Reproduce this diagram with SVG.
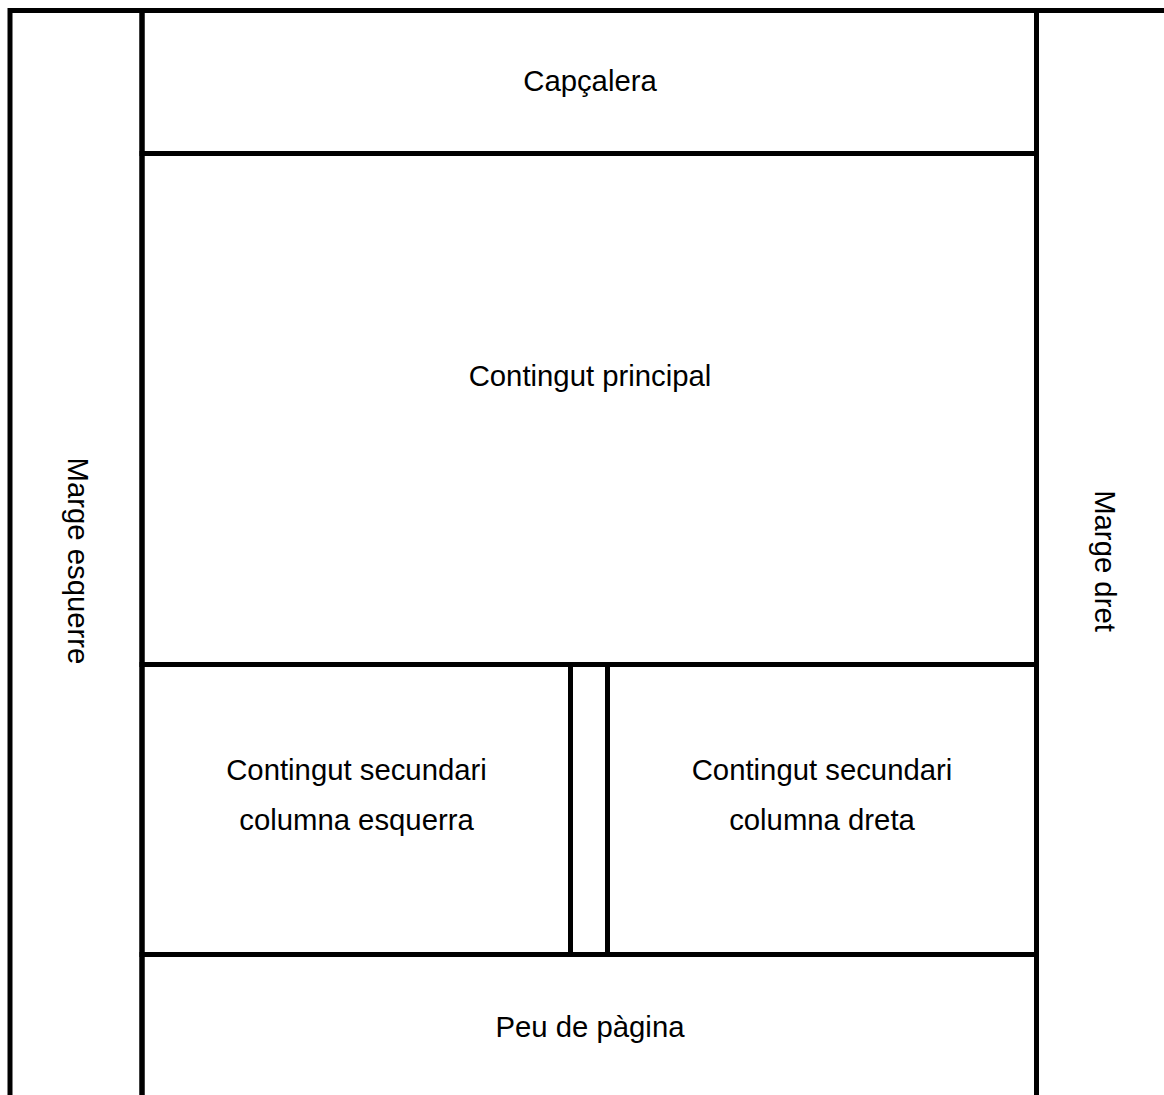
<svg xmlns="http://www.w3.org/2000/svg" width="1164" height="1095" viewBox="0 0 1164 1095">
<style>
.box{fill:none;stroke:#000;stroke-width:5;stroke-linejoin:miter}
.lbl{font-family:"Liberation Sans",Arial,Helvetica,sans-serif;font-size:29.3px;fill:#000;text-anchor:middle}
</style>
<rect width="1164" height="1095" fill="#fff"/>
<g id="margin-left"><rect class="box" x="10" y="10.5" width="132" height="1200"/><text class="lbl" transform="translate(68,561) rotate(90)">Marge esquerre</text></g>
<g id="margin-right"><rect class="box" x="1036.5" y="10.5" width="200" height="1200"/><text class="lbl" transform="translate(1095,561) rotate(90)">Marge dret</text></g>
<g id="header"><rect class="box" x="142" y="10.5" width="894.5" height="143"/><text class="lbl" x="590" y="91">Capçalera</text></g>
<g id="main"><rect class="box" x="142" y="153.5" width="894.5" height="511"/><text class="lbl" x="590" y="386">Contingut principal</text></g>
<g id="secondary-left"><rect class="box" x="142" y="664.5" width="428.5" height="290"/><text class="lbl" x="356.5" y="780">Contingut secundari</text><text class="lbl" x="356.5" y="830">columna esquerra</text></g>
<g id="gutter"><rect class="box" x="570.5" y="664.5" width="37" height="290"/></g>
<g id="secondary-right"><rect class="box" x="607.5" y="664.5" width="429" height="290"/><text class="lbl" x="822" y="780">Contingut secundari</text><text class="lbl" x="822" y="830">columna dreta</text></g>
<g id="footer"><rect class="box" x="142" y="954.5" width="894.5" height="300"/><text class="lbl" x="590" y="1037">Peu de pàgina</text></g>
<g id="connectors"></g>
</svg>
